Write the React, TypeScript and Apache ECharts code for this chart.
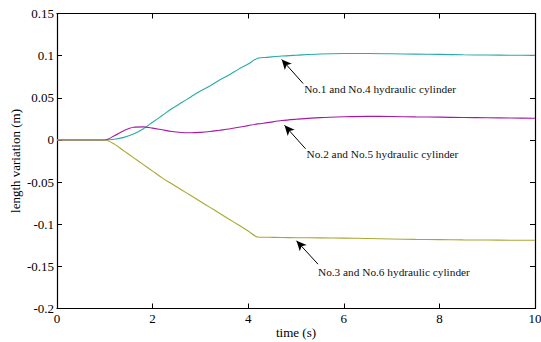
import React, { useEffect, useRef } from "react";
import * as echarts from "echarts";

const timeS = [0, 1, 1.2, 1.4, 1.6, 1.8, 2.0, 2.2, 2.4, 2.6, 2.8, 3.0, 3.2, 3.4, 3.6, 3.8, 4.0, 4.2, 4.4, 4.7, 5, 5.5, 6, 6.5, 7, 7.5, 8, 8.5, 9, 9.5, 10];
const cyl14 = [0, 0, 0.0008, 0.003, 0.007, 0.013, 0.021, 0.029, 0.037, 0.044, 0.051, 0.058, 0.064, 0.071, 0.077, 0.084, 0.090, 0.097, 0.098, 0.0995, 0.1005, 0.102, 0.1025, 0.1025, 0.1022, 0.1018, 0.1015, 0.101, 0.1007, 0.1005, 0.1003];
const cyl25 = [0, 0, 0.005, 0.011, 0.015, 0.0155, 0.014, 0.012, 0.010, 0.0088, 0.0085, 0.009, 0.010, 0.0115, 0.013, 0.015, 0.017, 0.019, 0.0205, 0.023, 0.0245, 0.0265, 0.0275, 0.028, 0.0278, 0.0273, 0.027, 0.0266, 0.0263, 0.026, 0.0258];
const cyl36 = [0, 0, -0.005, -0.013, -0.021, -0.029, -0.037, -0.045, -0.052, -0.059, -0.066, -0.073, -0.080, -0.087, -0.094, -0.101, -0.108, -0.1152, -0.1155, -0.1158, -0.116, -0.1162, -0.1165, -0.117, -0.1175, -0.118, -0.1183, -0.1186, -0.1188, -0.119, -0.119];

const labels = ["No.1 and No.4 hydraulic cylinder", "No.2 and No.5 hydraulic cylinder", "No.3 and No.6 hydraulic cylinder"];
// arrow [tail, head] in data coordinates
const arrows = [
  [[5.15, 0.0669], [4.70, 0.0955]],
  [[5.2, -0.0105], [4.76, 0.0173]],
  [[5.46, -0.1474], [5.01, -0.1196]],
];
const labelAnchors = [[5.17, 0.0607], [5.22, -0.0169], [5.46, -0.1563]];

const FONT = "Liberation Serif, Times New Roman, Times, serif";

export default function App() {
  const ref = useRef<HTMLDivElement>(null);
  useEffect(() => {
    const chart = echarts.init(ref.current!, null, { renderer: "svg", width: 541, height: 342 });
    const mk = (vals: number[]) => timeS.map((t, i) => [t, vals[i]]);
    const axisCommon = {
      axisLine: { onZero: false, lineStyle: { color: "#000", width: 1.2 } },
      axisTick: { inside: true, length: 5, lineStyle: { color: "#000" } },
      splitLine: { show: false },
    };
    chart.setOption({
      animation: false,
      backgroundColor: "#fff",
      textStyle: { fontFamily: FONT },
      grid: { left: 57, right: 6, top: 13.5, bottom: 33.5, outerBoundsMode: "none", containLabel: false },
      xAxis: [
        {
          type: "value", min: 0, max: 10, interval: 2, position: "bottom",
          ...axisCommon,
          axisLabel: { color: "#000", fontFamily: FONT, fontSize: 13, margin: 3 },
          name: "time (s)", nameLocation: "middle", nameGap: 17, nameMoveOverlap: false,
          nameTextStyle: { color: "#000", fontFamily: FONT, fontSize: 13 },
        },
        {
          type: "value", min: 0, max: 10, interval: 2, position: "top",
          ...axisCommon, axisLabel: { show: false },
        },
      ],
      yAxis: [
        {
          type: "value", min: -0.2, max: 0.15, interval: 0.05, position: "left",
          ...axisCommon,
          axisLabel: {
            color: "#000", fontFamily: FONT, fontSize: 13, margin: 3,
            formatter: (v: number) => String(Math.round(v * 100) / 100),
          },
          name: "length variation (m)", nameLocation: "middle", nameGap: 35, nameMoveOverlap: false,
          nameTextStyle: { color: "#000", fontFamily: FONT, fontSize: 13 },
        },
        {
          type: "value", min: -0.2, max: 0.15, interval: 0.05, position: "right",
          ...axisCommon, axisLabel: { show: false },
        },
      ],
      series: [
        {
          type: "line", data: mk(cyl14), smooth: 0.3, showSymbol: false,
          lineStyle: { color: "#2aaaaa", width: 1.1 },
          markLine: {
            silent: true, symbol: ["none", "arrow"], symbolSize: [7, 10],
            label: { show: false },
            lineStyle: { color: "#000", width: 1, type: "solid" },
            data: arrows.map((a) => [{ coord: a[0] }, { coord: a[1] }]),
          },
          markPoint: {
            silent: true, symbol: "rect", symbolSize: 0,
            data: labelAnchors.map((c, i) => ({
              coord: c,
              label: {
                show: true, position: "right", distance: 0, formatter: labels[i],
                color: "#111", fontFamily: FONT, fontSize: 11.3,
              },
            })),
          },
        },
        {
          type: "line", data: mk(cyl25), smooth: 0.3, showSymbol: false,
          lineStyle: { color: "#a51aa5", width: 1.1 },
        },
        {
          type: "line", data: mk(cyl36), smooth: 0.3, showSymbol: false,
          lineStyle: { color: "#a8a830", width: 1.1 },
        },
      ],
    });
    return () => chart.dispose();
  }, []);
  return <div ref={ref} style={{ position: "fixed", left: 0, top: 0, width: 541, height: 342 }} />;
}
